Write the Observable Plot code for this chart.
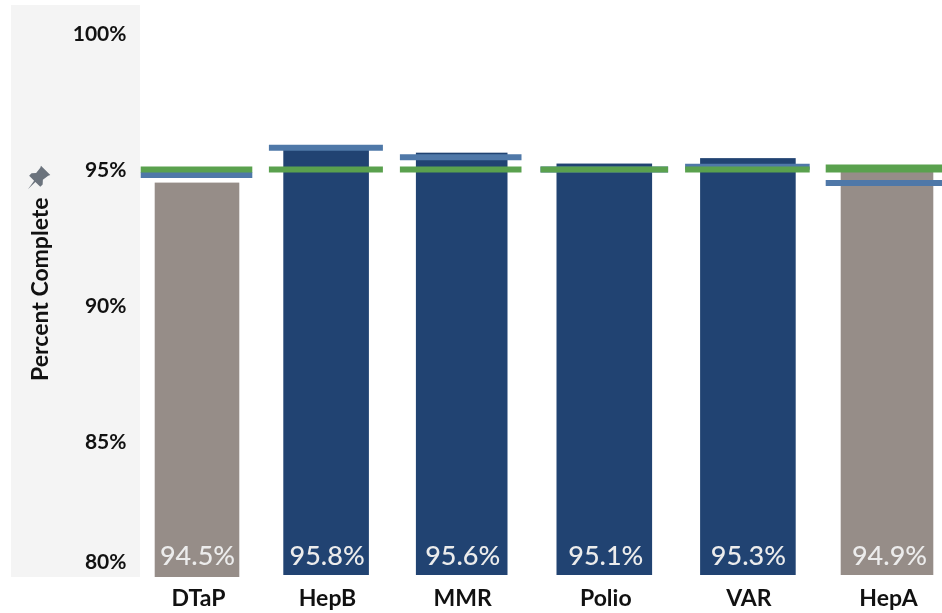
<!DOCTYPE html>
<html><head><meta charset="utf-8">
<script src="https://cdn.jsdelivr.net/npm/d3@7"></script>
<script src="https://cdn.jsdelivr.net/npm/@observablehq/plot@0.6"></script>
<style>
html,body{margin:0;padding:0;background:#fff;overflow:hidden}
#wrap{position:relative;width:942px;height:613px;overflow:hidden}
#panel{position:absolute;left:11px;top:5px;width:129px;height:572px;background:#f4f4f4}
#pin{position:absolute;left:25px;top:164px;width:27px;height:27px}
#chart{position:absolute;left:0;top:0}
#chart svg{background:transparent;filter:blur(.35px)}
</style></head><body>
<div id="wrap"><div id="panel"></div>
<svg id="pin" viewBox="0 0 24 24"><path fill="#6b737d" d="M14.2 1.5 22.5 9.8 20.6 10.4 15.9 14.1 15.7 18.2 13.6 20.3 9.2 15.9 2.6 22.5 8.1 14.8 3.7 10.4 5.8 8.3 9.9 8.1 13.6 3.4Z"/></svg>
<div id="chart"></div></div>
<script>
const categories = ["DTaP","HepB","MMR","Polio","VAR","HepA"];
const barTops    = [94.5,95.8,95.6,95.2,95.4,94.9];
const barLabels  = ["94.5%","95.8%","95.6%","95.1%","95.3%","94.9%"];
const blueLevels = [94.8,95.8,95.45,95.0,95.1,94.5];
const greenLevels= [95,95,95,95,95,95.04];
const yTicks     = [85,90,95,100];

const FONT = "Lato,sans-serif";
// per-category layout tweaks against the uniform band scale
const barInset  = [[26.7,26.7],[17.3,35.1],[11.9,34.5],[14.5,27.9],[20.1,22.3],[22.7,22.7]];
const lineInset = [[12.7,13.7],[2.9,21.1],[-4.1,20.5],[-1.5,11.9],[5.1,8.3],[7.7,0]];
const valueDx   = [0,-8.4,-10.8,-5.7,-1.1,2];
const labelDx   = [1,-8,-10.8,-5.7,-0.6,1];
const barBottom = [0,2,2,2,2,2];

const rows = categories.map((c,i)=>({c,top:barTops[i],label:barLabels[i],blue:blueLevels[i],green:greenLevels[i]}));

const marks = [];
rows.forEach((r,i)=>{
  marks.push(Plot.barY([r],{x:"c",y1:80,y2:"top",fill:i===0||i===5?"#968d88":"#214372",
    insetLeft:barInset[i][0],insetRight:barInset[i][1],insetBottom:barBottom[i]}));
});
rows.forEach((r,i)=>{
  marks.push(Plot.tickY([r],{x:"c",y:"blue",stroke:"#4f78a8",strokeWidth:6,insetLeft:lineInset[i][0],insetRight:lineInset[i][1]}));
});
rows.forEach((r,i)=>{
  marks.push(Plot.tickY([r],{x:"c",y:"green",stroke:"#5aa14e",strokeWidth:i===5?8:6,insetLeft:lineInset[i][0],insetRight:lineInset[i][1]}));
});
rows.forEach((r,i)=>{
  marks.push(Plot.text([r],{x:"c",y:()=>80,text:"label",dx:valueDx[i],dy:-21,fill:"#ececec",fontSize:27,fontWeight:500,fontFamily:FONT,style:{letterSpacing:"0.7px"}}));
  marks.push(Plot.axisX({ticks:[r.c],tickSize:0,tickPadding:0,dx:labelDx[i],dy:12,fontSize:23,fontWeight:"bold",fontFamily:FONT,label:null,fill:"#111"}));
});
marks.push(Plot.axisY({ticks:yTicks,tickSize:0,tickPadding:0,dy:1,tickFormat:d=>d+"%",fontSize:21,fontWeight:"bold",fontFamily:FONT,fill:"#111",label:null}));
marks.push(Plot.axisY({ticks:[80],tickSize:0,tickPadding:0,dy:-15,tickFormat:d=>d+"%",fontSize:21,fontWeight:"bold",fontFamily:FONT,fill:"#111",label:null}));
marks.push(Plot.text(["Percent Complete"],{frameAnchor:"left",textAnchor:"middle",y:()=>90.6,dx:-86,rotate:-90,fontSize:23,fontWeight:"bold",fontFamily:FONT,fill:"#111"}));

const plot = Plot.plot({
  width:942,height:613,marginLeft:126,marginRight:0,marginTop:0,marginBottom:36,
  x:{type:"band",domain:categories,range:[126.3,956.7],padding:0,axis:null,label:null},
  y:{domain:[80,100],range:[577,33],axis:null,label:null},
  marks
});
document.getElementById("chart").append(plot);
</script></body></html>
